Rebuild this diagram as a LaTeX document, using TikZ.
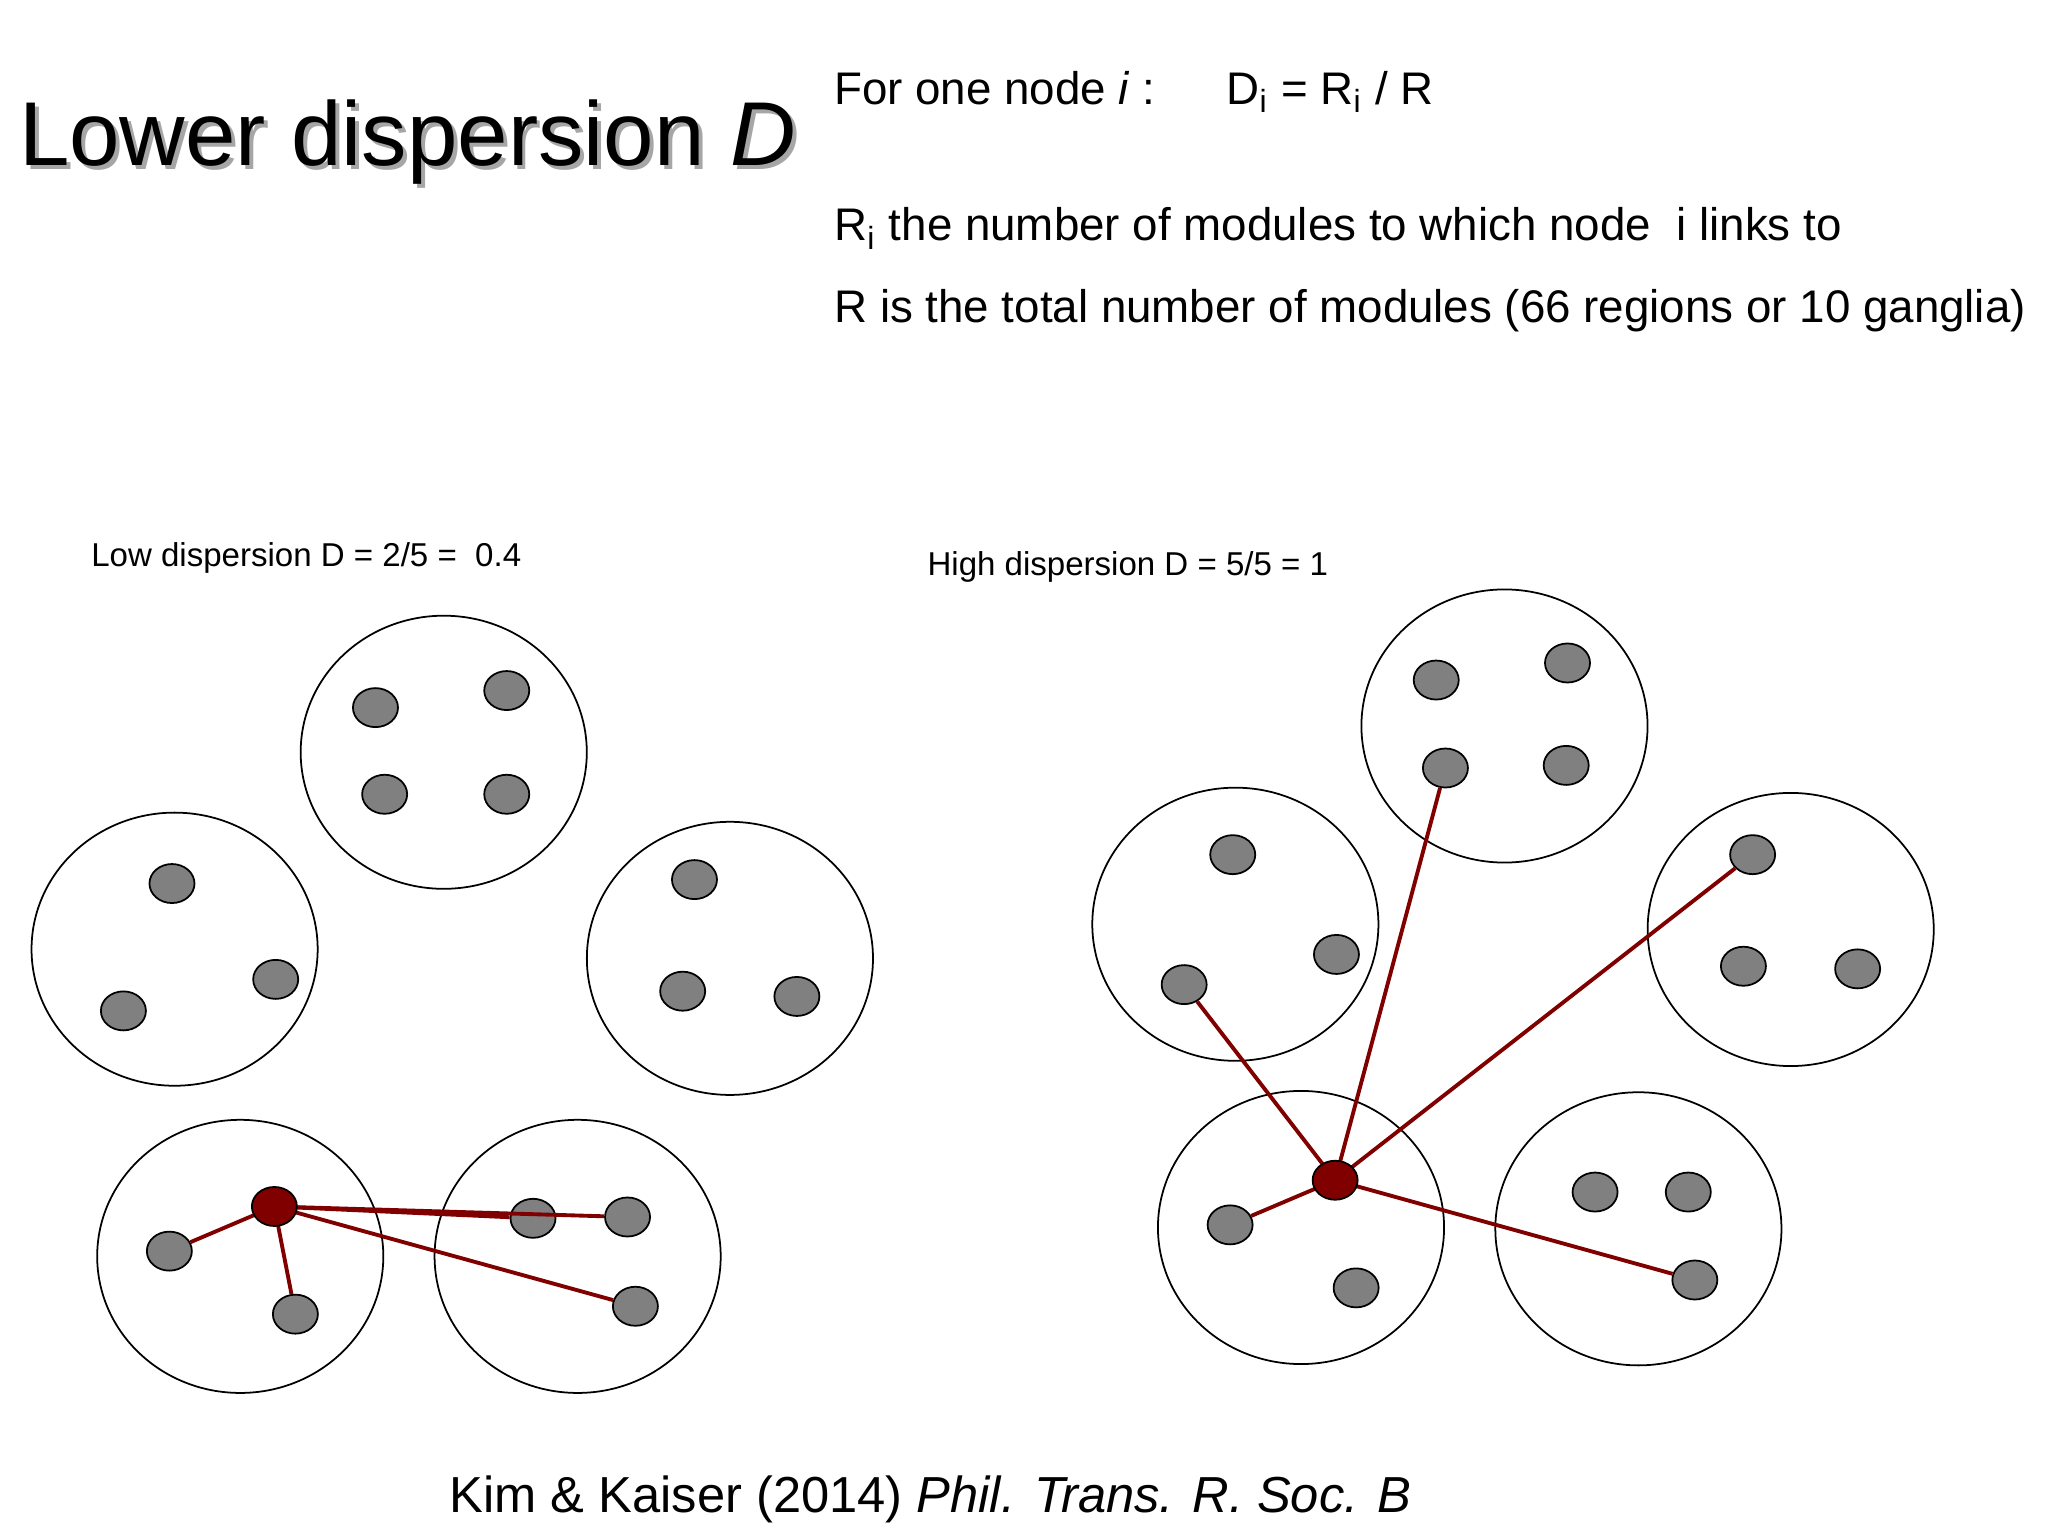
\documentclass[tikz,border=0pt]{standalone}
\usepackage{fontspec}
\setmainfont{Liberation Sans}
\definecolor{linkred}{RGB}{128,0,0}
\definecolor{nodegray}{RGB}{128,128,128}
\tikzset{
  module/.style={draw, ellipse, minimum width=2.86cm, minimum height=2.73cm, line width=0.5pt},
  unit/.style={draw, ellipse, fill=nodegray, minimum width=0.45cm, minimum height=0.39cm, inner sep=0pt, line width=0.5pt},
  hub/.style={draw, ellipse, fill=linkred, minimum width=0.45cm, minimum height=0.39cm, inner sep=0pt, line width=0.5pt},
  link/.style={draw=linkred, line width=1.1pt},
  txt/.style={anchor=west, inner sep=0pt}
}
\usetikzlibrary{shapes.geometric}
\begin{document}
\begin{tikzpicture}[x=0.01313cm, y=-0.01313cm, every node/.append style={font=\fontsize{13}{15}\selectfont}]
  \useasboundingbox (0,0) rectangle (1560,1170);
  % texts
  \node[txt, text=black!35, font=\fontsize{25.8}{28}\selectfont] at (17,111) {Lower dispersion \textit{D}};
  \node[txt, font=\fontsize{25.8}{28}\selectfont] (title) at (14,108) {Lower dispersion \textit{D}};
  \node[txt] (def) at (635,70) {For one node \textit{i} :\quad\ \ D$_{\mathrm{i}}$ = R$_{\mathrm{i}}$ / R};
  \node[txt] (ri) at (635,174) {R$_{\mathrm{i}}$ the number of modules to which node\ \ i links to};
  \node[txt] (r) at (635,237) {R is the total number of modules (66 regions or 10 ganglia)};
  \node[txt, font=\fontsize{9.4}{11}\selectfont] (low) at (69,425) {Low dispersion D = 2/5 = \ 0.4};
  \node[txt, font=\fontsize{9.4}{11}\selectfont] (high) at (706,432) {High dispersion D = 5/5 = 1};
  \node[txt, font=\fontsize{14.4}{16}\selectfont] (cite) at (342,1142) {Kim \& Kaiser (2014) \textit{Phil. Trans. R. Soc. B}};
  % modules
  \foreach \name/\x/\y in {la/338/573, lb/133/723, lc/556/730, ld/183/957, le/440/957,
                           ra/1146/553, rb/941/704, rc/1364/708, rd/991/935, re/1248/936}
    \node[module] (\name) at (\x,\y) {};
  % units
  \foreach \name/\x/\y in {la1/286/539, la2/386/526, la3/293/605, la4/386/605,
                           lb1/131/673, lb2/210/746, lb3/94/770,
                           lc1/529/670, lc2/520/755, lc3/607/759,
                           ld1/129/953, ld2/225/1001,
                           le1/406/928, le2/478/927, le3/484/995,
                           ra1/1094/518, ra2/1194/505, ra3/1101/585, ra4/1193/583,
                           rb1/939/651, rb2/1018/727, rb3/902/750,
                           rc1/1335/651, rc2/1328/736, rc3/1415/738,
                           rd1/937/933, rd2/1033/981,
                           re1/1215/908, re2/1286/908, re3/1291/975}
    \node[unit] (\name) at (\x,\y) {};
  % links of the hubs
  \foreach \t in {ld1, ld2, le1, le2, le3}
    \draw[link] (209,919) -- (\t);
  \foreach \t in {rb3, ra3, rc1, rd1, re3}
    \draw[link] (1017,899) -- (\t);
  \node[hub] (lhub) at (209,919) {};
  \node[hub] (rhub) at (1017,899) {};
\end{tikzpicture}
\end{document}
